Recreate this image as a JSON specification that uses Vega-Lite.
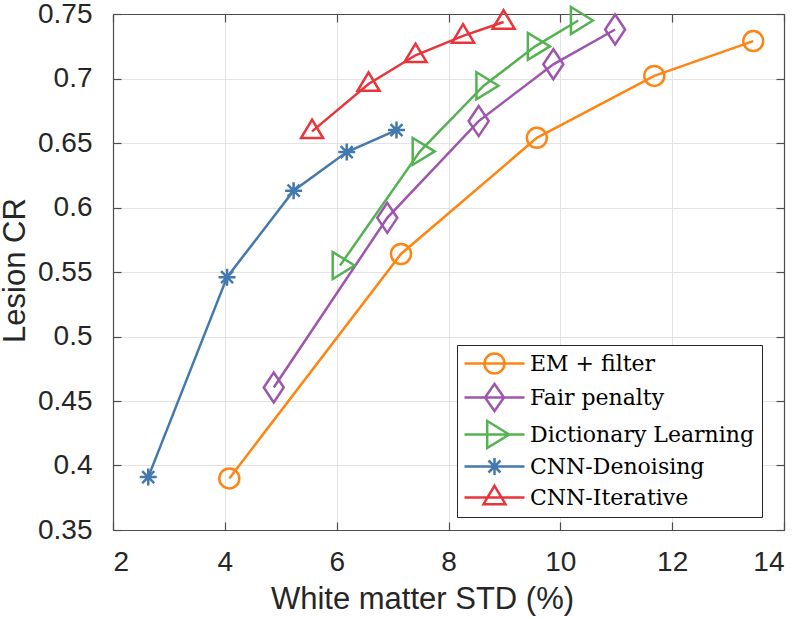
{
  "$schema": "https://vega.github.io/schema/vega-lite/v6.json",
  "autosize": {"type": "none"},
  "padding": {"left": 113, "top": 14, "right": 16, "bottom": 89},
  "width": 671,
  "height": 516,
  "background": "white",
  "config": {
    "view": {"stroke": null},
    "axis": {
      "labelFont": "Liberation Sans",
      "titleFont": "Liberation Sans",
      "labelFontSize": 28,
      "titleFontSize": 31,
      "titleFontWeight": "normal",
      "labelColor": "#262626",
      "titleColor": "#262626",
      "domainColor": "#4d4d4d",
      "tickColor": "#4d4d4d",
      "domainWidth": 1.2,
      "tickWidth": 1.2,
      "gridColor": "#e3e3e3",
      "gridWidth": 1
    }
  },
  "data": {
    "values": [
      {"series": "EM + filter", "std": 4.08, "cr": 0.390},
      {"series": "EM + filter", "std": 7.15, "cr": 0.564},
      {"series": "EM + filter", "std": 9.58, "cr": 0.654},
      {"series": "EM + filter", "std": 11.68, "cr": 0.702},
      {"series": "EM + filter", "std": 13.45, "cr": 0.729},
      {"series": "Fair penalty", "std": 4.875, "cr": 0.4605},
      {"series": "Fair penalty", "std": 6.905, "cr": 0.592},
      {"series": "Fair penalty", "std": 8.54, "cr": 0.667},
      {"series": "Fair penalty", "std": 9.875, "cr": 0.711},
      {"series": "Fair penalty", "std": 10.98, "cr": 0.738},
      {"series": "Dictionary Learning", "std": 6.06, "cr": 0.555},
      {"series": "Dictionary Learning", "std": 7.49, "cr": 0.6435},
      {"series": "Dictionary Learning", "std": 8.63, "cr": 0.6944},
      {"series": "Dictionary Learning", "std": 9.55, "cr": 0.7249},
      {"series": "Dictionary Learning", "std": 10.32, "cr": 0.745},
      {"series": "CNN-Denoising", "std": 2.63, "cr": 0.391},
      {"series": "CNN-Denoising", "std": 4.04, "cr": 0.546},
      {"series": "CNN-Denoising", "std": 5.23, "cr": 0.613},
      {"series": "CNN-Denoising", "std": 6.18, "cr": 0.643},
      {"series": "CNN-Denoising", "std": 7.07, "cr": 0.660},
      {"series": "CNN-Iterative", "std": 5.56, "cr": 0.659},
      {"series": "CNN-Iterative", "std": 6.57, "cr": 0.6957},
      {"series": "CNN-Iterative", "std": 7.41, "cr": 0.718},
      {"series": "CNN-Iterative", "std": 8.26, "cr": 0.733},
      {"series": "CNN-Iterative", "std": 8.985, "cr": 0.7438}
    ]
  },
  "resolve": {"axis": {"x": "independent", "y": "independent"}},
  "layer": [
    {
      "transform": [{"filter": "datum.series == 'no such series'"}],
      "mark": {"type": "point", "filled": false, "strokeWidth": 2.5, "size": 400},
      "encoding": {
        "x": {
          "field": "std", "type": "quantitative",
          "scale": {"domain": [2, 14], "nice": false, "zero": false},
          "axis": {
            "orient": "top", "title": null, "labels": false, "grid": false,
            "values": [2, 4, 6, 8, 10, 12, 14], "tickSize": -8
          }
        },
        "y": {
          "field": "cr", "type": "quantitative",
          "scale": {"domain": [0.35, 0.75], "nice": false, "zero": false},
          "axis": {
            "orient": "right", "title": null, "labels": false, "grid": false,
            "values": [0.35, 0.4, 0.45, 0.5, 0.55, 0.6, 0.65, 0.7, 0.75], "tickSize": -8
          }
        },
        "color": {
          "field": "series", "type": "nominal",
          "scale": {
            "domain": ["EM + filter", "Fair penalty", "Dictionary Learning", "CNN-Denoising", "CNN-Iterative"],
            "range": ["#ff8513", "#9d55ad", "#55b252", "#4479ad", "#e8343a"]
          },
          "legend": {
            "title": null,
            "orient": "none",
            "legendX": 344,
            "legendY": 331,
            "padding": 7,
            "fillColor": "white",
            "strokeColor": "#262626",
            "labelFont": "DejaVu Serif",
            "labelFontSize": 22,
            "labelColor": "#000000",
            "labelLimit": 400,
            "symbolSize": 400,
            "symbolOffset": 19,
            "labelOffset": 24,
            "rowPadding": 0,
            "symbolStrokeWidth": 2.5,
            "symbolOpacity": 1
          }
        },
        "shape": {
          "field": "series", "type": "nominal",
          "scale": {
            "domain": ["EM + filter", "Fair penalty", "Dictionary Learning", "CNN-Denoising", "CNN-Iterative"],
            "range": [
              "M-3,0L3,0M-1,0A1,1 0 1,0 1,0A1,1 0 1,0 -1,0Z",
              "M-3,0L3,0M0,-1.35L0.95,0L0,1.35L-0.95,0Z",
              "M-3,0L3,0M1.47,0L-0.73,-1.35L-0.73,1.35Z",
              "M-3,0L3,0M0,-0.85L0,0.85M-0.85,0L0.85,0M-0.6,-0.6L0.6,0.6M-0.6,0.6L0.6,-0.6",
              "M-3,0L3,0M0,-1.17L1.1,0.67L-1.1,0.67Z"
            ]
          }
        }
      }
    },
    {
      "mark": {"type": "line", "strokeWidth": 2.5},
      "encoding": {
        "x": {
          "field": "std", "type": "quantitative",
          "axis": {
            "orient": "bottom",
            "title": "White matter STD (%)",
            "values": [2, 4, 6, 8, 10, 12, 14],
            "grid": true,
            "tickSize": -8,
            "labelPadding": 26,
            "titleBaseline": "alphabetic",
            "titleAlign": "center",
            "titleAnchor": null,
            "titleX": 309,
            "titleY": 78
          }
        },
        "y": {
          "field": "cr", "type": "quantitative",
          "axis": {
            "orient": "left",
            "title": "Lesion CR",
            "values": [0.35, 0.4, 0.45, 0.5, 0.55, 0.6, 0.65, 0.7, 0.75],
            "labelExpr": "format(datum.value, '~g')",
            "grid": true,
            "tickSize": -8,
            "labelPadding": 29,
            "titleBaseline": "alphabetic",
            "titleAlign": "center",
            "titleAnchor": null,
            "titleAngle": 270,
            "titleX": -89,
            "titleY": 256
          }
        },
        "stroke": {
          "field": "series", "type": "nominal",
          "scale": {
            "domain": ["CNN-Iterative", "CNN-Denoising", "Dictionary Learning", "Fair penalty", "EM + filter"],
            "range": ["#e8343a", "#4479ad", "#55b252", "#9d55ad", "#ff8513"]
          },
          "legend": null
        }
      }
    },
    {
      "transform": [{"filter": "datum.series == 'EM + filter'"}],
      "mark": {"type": "point", "filled": false, "strokeWidth": 2.5, "size": 400, "opacity": 1, "shape": "circle"},
      "encoding": {
        "x": {"field": "std", "type": "quantitative", "axis": null},
        "y": {"field": "cr", "type": "quantitative", "axis": null},
        "stroke": {"field": "series", "type": "nominal", "legend": null}
      }
    },
    {
      "transform": [{"filter": "datum.series == 'Fair penalty'"}],
      "mark": {"type": "point", "filled": false, "strokeWidth": 2.5, "size": 400, "opacity": 1, "shape": "M0,-1.5L1,0L0,1.5L-1,0Z"},
      "encoding": {
        "x": {"field": "std", "type": "quantitative", "axis": null},
        "y": {"field": "cr", "type": "quantitative", "axis": null},
        "stroke": {"field": "series", "type": "nominal", "legend": null}
      }
    },
    {
      "transform": [{"filter": "datum.series == 'Dictionary Learning'"}],
      "mark": {"type": "point", "filled": false, "strokeWidth": 2.5, "size": 400, "opacity": 1, "shape": "M1.47,0L-0.73,-1.35L-0.73,1.35Z"},
      "encoding": {
        "x": {"field": "std", "type": "quantitative", "axis": null},
        "y": {"field": "cr", "type": "quantitative", "axis": null},
        "stroke": {"field": "series", "type": "nominal", "legend": null}
      }
    },
    {
      "transform": [{"filter": "datum.series == 'CNN-Denoising'"}],
      "mark": {"type": "point", "filled": false, "strokeWidth": 2.5, "size": 400, "opacity": 1, "shape": "M0,-0.85L0,0.85M-0.85,0L0.85,0M-0.6,-0.6L0.6,0.6M-0.6,0.6L0.6,-0.6"},
      "encoding": {
        "x": {"field": "std", "type": "quantitative", "axis": null},
        "y": {"field": "cr", "type": "quantitative", "axis": null},
        "stroke": {"field": "series", "type": "nominal", "legend": null}
      }
    },
    {
      "transform": [{"filter": "datum.series == 'CNN-Iterative'"}],
      "mark": {"type": "point", "filled": false, "strokeWidth": 2.5, "size": 400, "opacity": 1, "shape": "M0,-1.17L1.1,0.67L-1.1,0.67Z"},
      "encoding": {
        "x": {"field": "std", "type": "quantitative", "axis": null},
        "y": {"field": "cr", "type": "quantitative", "axis": null},
        "stroke": {"field": "series", "type": "nominal", "legend": null}
      }
    }
  ]
}
